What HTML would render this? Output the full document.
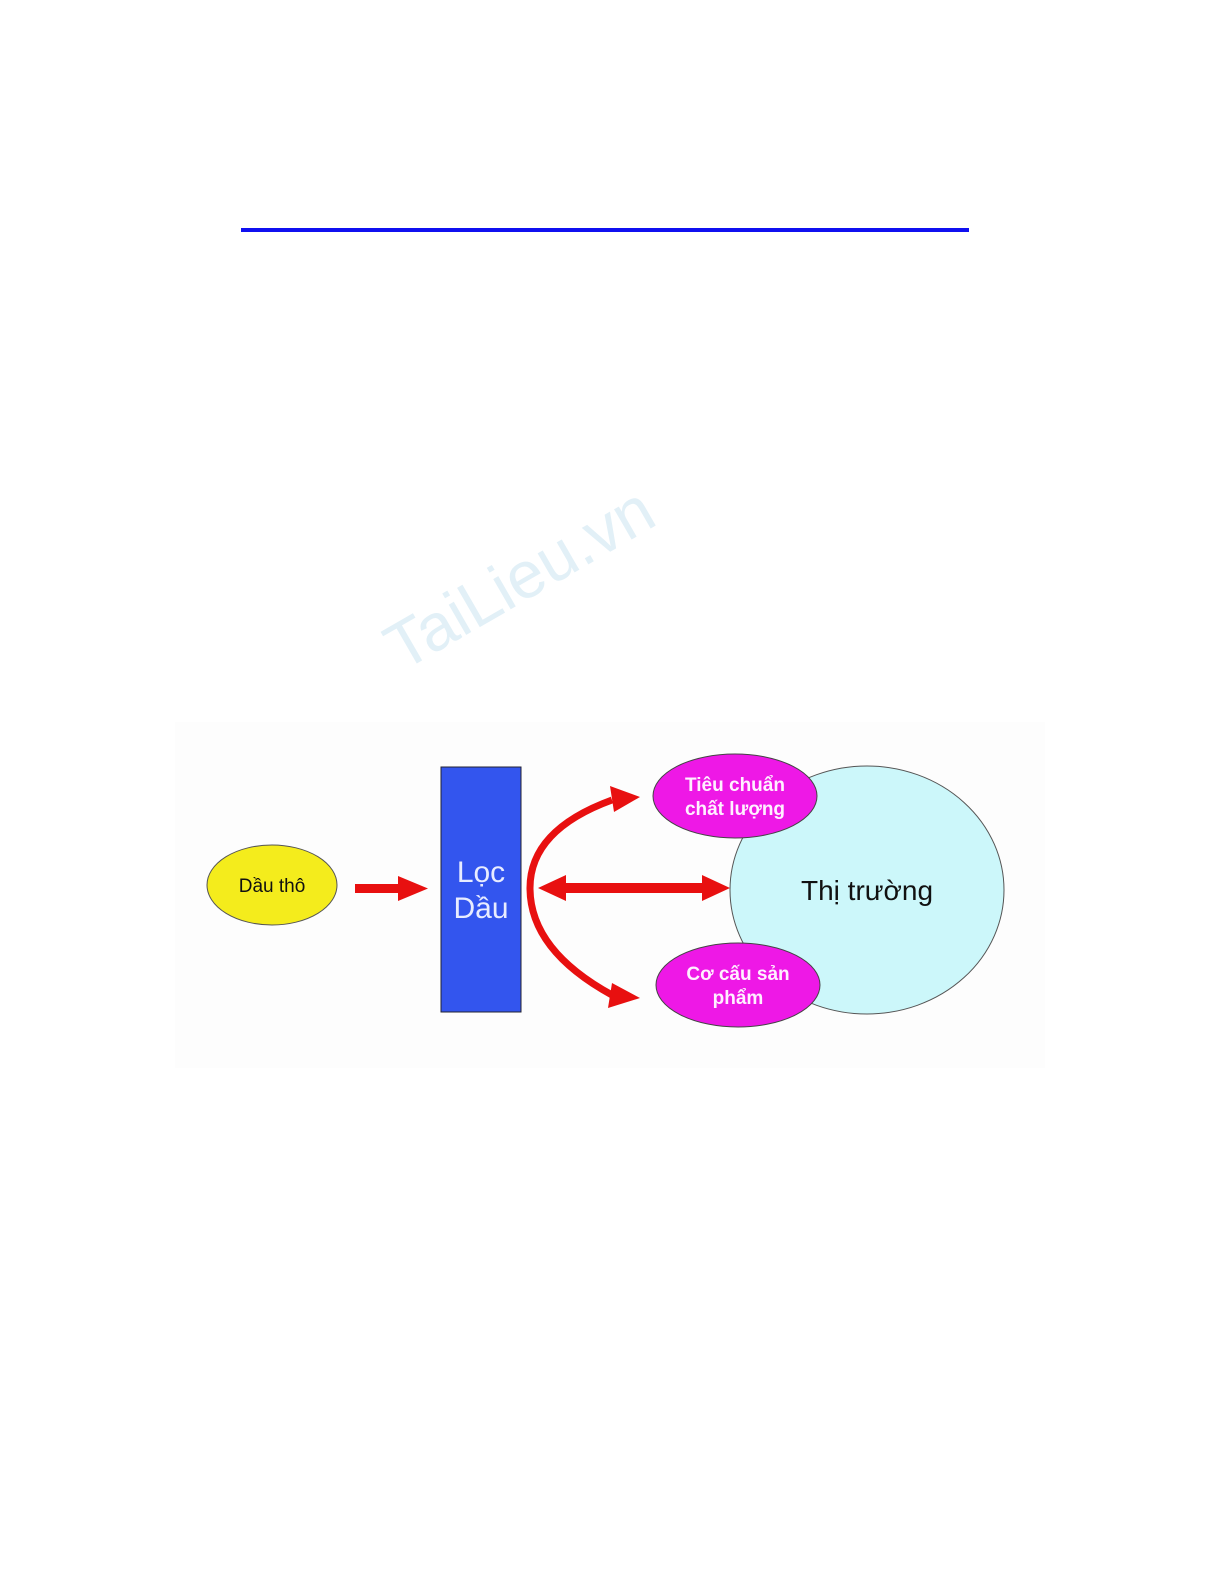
<!DOCTYPE html>
<html><head><meta charset="utf-8"><style>
html,body{margin:0;padding:0;background:#fff;overflow:hidden;width:1225px;height:1585px;}
svg{display:block;}
</style></head><body>
<svg width="1225" height="1585" viewBox="0 0 1225 1585" xmlns="http://www.w3.org/2000/svg">
<rect width="1225" height="1585" fill="#fff"/>
<rect x="241" y="228" width="728" height="4" fill="#1010f0"/>
<text x="0" y="0" transform="translate(402,672) rotate(-30)" font-family="Liberation Sans, sans-serif" font-size="66" fill="#e2f0f7">TaiLieu.vn</text>
<rect x="175" y="722" width="870" height="346" fill="#fdfdfd"/>
<ellipse cx="272" cy="885" rx="65" ry="40" fill="#f4ec1c" stroke="#555" stroke-width="1"/>
<text x="272" y="892" text-anchor="middle" font-family="Liberation Sans, sans-serif" font-size="19" fill="#111">Dầu thô</text>
<rect x="355" y="884" width="45" height="9" fill="#e81010"/>
<polygon points="398,876 428,888.5 398,901" fill="#e81010"/>
<rect x="441" y="767" width="80" height="245" fill="#3355ee" stroke="#223" stroke-width="1"/>
<text x="481" y="882" text-anchor="middle" font-family="Liberation Sans, sans-serif" font-size="30" fill="#e8ecff">Lọc</text>
<text x="481" y="918" text-anchor="middle" font-family="Liberation Sans, sans-serif" font-size="30" fill="#e8ecff">Dầu</text>
<ellipse cx="867" cy="890" rx="137" ry="124" fill="#ccf7fa" stroke="#555" stroke-width="1"/>
<text x="867" y="900" text-anchor="middle" font-family="Liberation Sans, sans-serif" font-size="28" fill="#111">Thị trường</text>
<rect x="560" y="883" width="148" height="10" fill="#e81010"/>
<polygon points="538,888 566,875 566,901" fill="#e81010"/>
<polygon points="730,888 702,875 702,901" fill="#e81010"/>
<path d="M612,800 Q530,830 530,888 Q530,950 612,995" fill="none" stroke="#e81010" stroke-width="7"/>
<polygon points="640,797 610,786 614,812" fill="#e81010"/>
<polygon points="640,998 612,983 608,1008" fill="#e81010"/>
<ellipse cx="735" cy="796" rx="82" ry="42" fill="#ee18e6" stroke="#444" stroke-width="1"/>
<text x="735" y="791" text-anchor="middle" font-family="Liberation Sans, sans-serif" font-size="19" font-weight="bold" fill="#fff0ff">Tiêu chuẩn</text>
<text x="735" y="815" text-anchor="middle" font-family="Liberation Sans, sans-serif" font-size="19" font-weight="bold" fill="#fff0ff">chất lượng</text>
<ellipse cx="738" cy="985" rx="82" ry="42" fill="#ee18e6" stroke="#444" stroke-width="1"/>
<text x="738" y="980" text-anchor="middle" font-family="Liberation Sans, sans-serif" font-size="19" font-weight="bold" fill="#fff0ff">Cơ cấu sản</text>
<text x="738" y="1004" text-anchor="middle" font-family="Liberation Sans, sans-serif" font-size="19" font-weight="bold" fill="#fff0ff">phẩm</text>
</svg>
</body></html>
